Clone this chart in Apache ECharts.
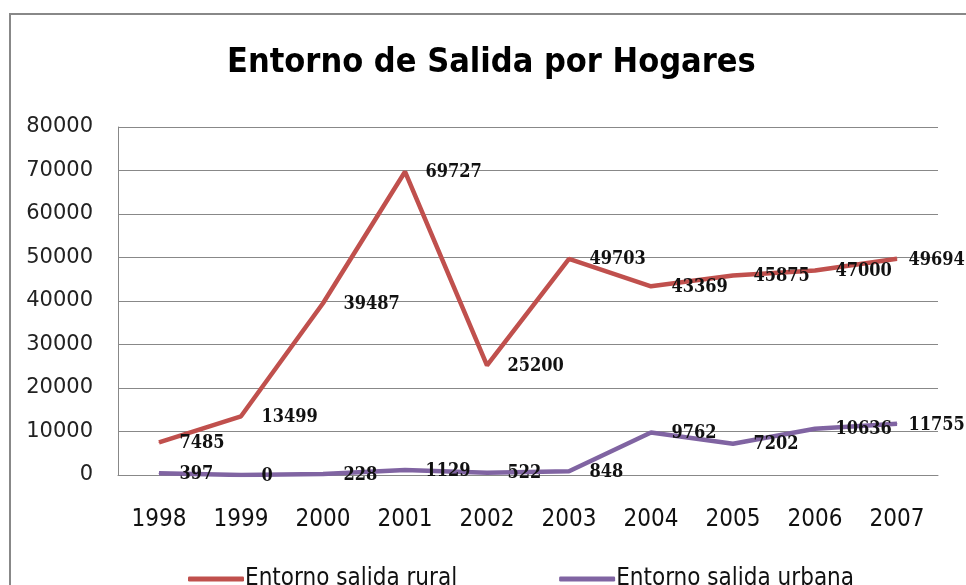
<!DOCTYPE html>
<html><head><meta charset="utf-8">
<script src="https://cdn.jsdelivr.net/npm/echarts@6/dist/echarts.min.js"></script>
<style>html,body{margin:0;padding:0;background:#fff}#c{width:966px;height:585px}</style>
</head><body><div id="c"></div>
<script>
const titleText = 'Entorno de Salida por Hogares';
const years = ['1998','1999','2000','2001','2002','2003','2004','2005','2006','2007'];
const seriesNames = ['Entorno salida rural','Entorno salida urbana'];
const rural = [7485, 13499, 39487, 69727, 25200, 49703, 43369, 45875, 47000, 49694];
const urbana = [397, 0, 228, 1129, 522, 848, 9762, 7202, 10636, 11755];
const yTicks = [0, 10000, 20000, 30000, 40000, 50000, 60000, 70000, 80000];

const COND = 'DejaVu Sans Condensed';
const chart = echarts.init(document.getElementById('c'));
const labelCfg = {show:true, position:'right', distance:20, offset:[0,1], color:'#111',
  fontFamily:'DejaVu Serif Condensed, Liberation Serif', fontWeight:'bold', fontSize:18};
const withLastLabel = arr => arr.map((v, i) => i === arr.length - 1 ? {value:v, label:{distance:11}} : v);
chart.setOption({
  animation:false,
  graphic:[{type:'rect', shape:{x:10,y:14,width:1000,height:600}, style:{fill:'none', stroke:'#888', lineWidth:2}, silent:true}],
  title:{text:titleText, left:222, top:41, textStyle:{fontFamily:COND, fontWeight:'bold', fontSize:34, color:'#000'}},
  grid:{left:118, right:28, top:127, bottom:110},
  legend:{left:183, top:562, itemWidth:56, itemHeight:5, itemGap:102, icon:'roundRect',
    textStyle:{fontFamily:COND, fontSize:24, color:'#111', padding:[0,0,0,-4]},
    data:seriesNames},
  xAxis:{type:'category', data:years, boundaryGap:true,
    axisLine:{lineStyle:{color:'#888'}}, axisTick:{show:false},
    axisLabel:{interval:0, margin:33, fontFamily:COND, fontSize:24, color:'#111'}},
  yAxis:{type:'value', min:yTicks[0], max:yTicks[yTicks.length-1], interval:10000,
    axisLine:{show:true, lineStyle:{color:'#888'}}, axisTick:{show:false},
    splitLine:{lineStyle:{color:'#888', width:1}},
    axisLabel:{margin:25, fontFamily:'DejaVu Sans', fontSize:21, color:'#222', formatter:v=>String(v)}},
  series:[
    {name:seriesNames[0], type:'line', data:withLastLabel(rural), symbol:'circle', symbolSize:1, showSymbol:true,
      lineStyle:{color:'#C0504D', width:4.5}, itemStyle:{color:'#C0504D'}, label:labelCfg, z:3},
    {name:seriesNames[1], type:'line', data:withLastLabel(urbana), symbol:'circle', symbolSize:1, showSymbol:true,
      lineStyle:{color:'#8064A2', width:4.5}, itemStyle:{color:'#8064A2'}, label:labelCfg, z:3}
  ]
});
</script></body></html>
